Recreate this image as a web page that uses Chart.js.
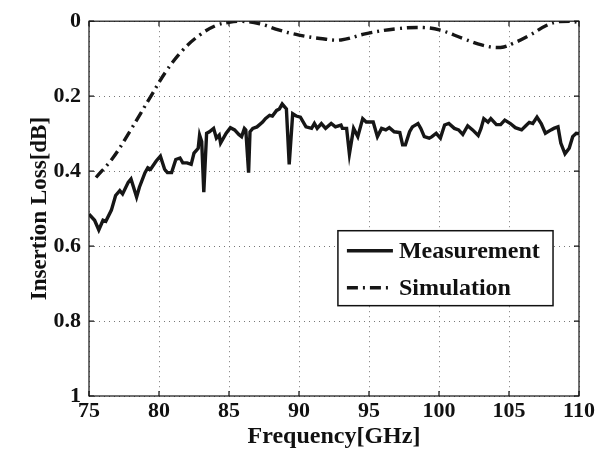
<!DOCTYPE html>
<html>
<head>
<meta charset="utf-8">
<script src="https://cdn.jsdelivr.net/npm/chart.js@4.4.0/dist/chart.umd.min.js"></script>
<style>
  html, body { margin: 0; padding: 0; background: #fff; }
  #wrap { width: 598px; height: 454px; }
</style>
</head>
<body>
<div id="wrap"><canvas id="loss"></canvas></div>
<script>
const xTicks = [75, 80, 85, 90, 95, 100, 105, 110];
const yTicks = [0, 0.2, 0.4, 0.6, 0.8, 1];

const measFreq = [75.0, 75.4, 75.7, 76.0, 76.2, 76.6, 76.9, 77.2, 77.4, 77.8, 78.0, 78.4, 78.6, 79.0, 79.2, 79.4, 79.8,
  80.1, 80.4, 80.6, 80.9, 81.2, 81.5, 81.7, 82.0, 82.3, 82.5, 82.8, 82.9, 83.05, 83.2, 83.4, 83.6, 83.9, 84.1, 84.3, 84.4, 84.8,
  85.1, 85.4, 85.7, 85.9, 86.1, 86.2, 86.4, 86.5, 86.7, 87.0, 87.4, 87.6, 87.9, 88.1, 88.4, 88.6, 88.8, 89.1, 89.3, 89.55, 89.8,
  90.1, 90.5, 90.9, 91.1, 91.3, 91.6, 91.9, 92.3, 92.6, 93.0, 93.1, 93.4, 93.6, 93.9, 94.2, 94.55, 94.8,
  95.3, 95.6, 95.9, 96.2, 96.45, 96.8, 97.2, 97.4, 97.6, 97.9, 98.1, 98.5, 98.7, 98.95, 99.3, 99.5, 99.8,
  100.1, 100.4, 100.7, 101.1, 101.4, 101.7, 102.05, 102.4, 102.8, 103.0, 103.2, 103.5, 103.7, 104.1, 104.4, 104.7,
  105.1, 105.45, 105.9, 106.2, 106.45, 106.7, 107.0, 107.3, 107.6, 108.0, 108.2, 108.5, 108.7, 109.0, 109.3, 109.55, 109.8, 110.0];
const measLoss = [0.515, 0.531, 0.557, 0.531, 0.534, 0.504, 0.465, 0.452, 0.461, 0.430, 0.421, 0.469, 0.443, 0.404, 0.391, 0.395, 0.373,
  0.360, 0.395, 0.404, 0.404, 0.369, 0.365, 0.378, 0.378, 0.382, 0.352, 0.339, 0.304, 0.321, 0.456, 0.299, 0.295, 0.286, 0.312, 0.304, 0.325, 0.299,
  0.284, 0.290, 0.302, 0.308, 0.286, 0.290, 0.404, 0.295, 0.286, 0.282, 0.269, 0.260, 0.251, 0.253, 0.238, 0.234, 0.221, 0.234, 0.382, 0.247, 0.253,
  0.256, 0.282, 0.286, 0.273, 0.286, 0.273, 0.286, 0.273, 0.282, 0.277, 0.286, 0.286, 0.354, 0.286, 0.308, 0.260, 0.269,
  0.269, 0.308, 0.286, 0.290, 0.284, 0.295, 0.297, 0.330, 0.330, 0.295, 0.282, 0.273, 0.286, 0.308, 0.312, 0.308, 0.299,
  0.312, 0.277, 0.273, 0.286, 0.290, 0.302, 0.279, 0.290, 0.305, 0.286, 0.260, 0.269, 0.260, 0.276, 0.276, 0.264,
  0.273, 0.284, 0.290, 0.279, 0.270, 0.273, 0.256, 0.273, 0.299, 0.290, 0.286, 0.282, 0.325, 0.354, 0.339, 0.308, 0.299, 0.300];

const simFreq = [75.5, 76.7, 77.9, 79.5, 80.5, 81.7, 82.9, 84.1, 85.0, 85.8, 87.2, 88.6, 90.0, 91.5, 93.0,
  94.8, 97.0, 98.9, 100.1, 101.7, 103.1, 104.4, 105.3, 106.5, 107.7, 108.6, 109.4, 110.0];
const simLoss = [0.417, 0.365, 0.295, 0.195, 0.134, 0.077, 0.037, 0.011, 0.003, 0.0, 0.007, 0.024, 0.037, 0.046, 0.050,
  0.033, 0.020, 0.017, 0.024, 0.046, 0.064, 0.070, 0.059, 0.037, 0.011, 0.001, 0.0, 0.004];

const serif = 'Liberation Serif, Times New Roman, serif';

// box around the plot plus short inward ticks on every side
const frame = {
  id: 'frame',
  afterDatasetsDraw(chart) {
    const { ctx, chartArea: a, scales } = chart;
    ctx.save();
    ctx.strokeStyle = '#111';
    ctx.lineWidth = 1.2;
    ctx.strokeRect(a.left, a.top, a.right - a.left, a.bottom - a.top);
    ctx.beginPath();
    xTicks.forEach(v => {
      const px = scales.x.getPixelForValue(v);
      ctx.moveTo(px, a.bottom); ctx.lineTo(px, a.bottom - 5);
      ctx.moveTo(px, a.top); ctx.lineTo(px, a.top + 5);
    });
    yTicks.forEach(v => {
      const py = scales.y.getPixelForValue(v);
      ctx.moveTo(a.left, py); ctx.lineTo(a.left + 5, py);
      ctx.moveTo(a.right, py); ctx.lineTo(a.right - 5, py);
    });
    ctx.stroke();
    ctx.restore();
  }
};

// legend box inside the plot, lower right
const boxLegend = {
  id: 'boxLegend',
  afterDraw(chart) {
    const { ctx, chartArea: a } = chart;
    const w = a.right - a.left, h = a.bottom - a.top;
    const L = a.left + 0.508 * w, R = a.left + 0.947 * w;
    const T = a.top + 0.559 * h, B = a.top + 0.759 * h;
    ctx.save();
    ctx.fillStyle = '#fff';
    ctx.fillRect(L, T, R - L, B - T);
    ctx.strokeStyle = '#111';
    ctx.lineWidth = 1.5;
    ctx.strokeRect(L, T, R - L, B - T);
    ctx.font = 'bold 24px ' + serif;
    ctx.textBaseline = 'middle';
    ctx.fillStyle = '#111';
    chart.data.datasets.forEach((ds, i) => {
      const y = T + 20 + i * 37;
      ctx.beginPath();
      ctx.setLineDash(ds.borderDash || []);
      ctx.lineWidth = ds.borderWidth;
      ctx.strokeStyle = ds.borderColor;
      ctx.moveTo(L + 9, y);
      ctx.lineTo(L + 55, y);
      ctx.stroke();
      ctx.setLineDash([]);
      ctx.fillText(ds.label, L + 61, y + 1);
    });
    ctx.restore();
  }
};

const ctx = document.getElementById('loss');

new Chart(ctx, {
  type: 'line',
  data: {
    datasets: [{
      label: 'Measurement',
      data: measFreq.map((f, i) => ({ x: f, y: measLoss[i] })),
      borderColor: '#161616',
      borderWidth: 3.4,
      pointRadius: 0,
      tension: 0
    }, {
      label: 'Simulation',
      data: simFreq.map((f, i) => ({ x: f, y: simLoss[i] })),
      borderColor: '#161616',
      borderWidth: 3.4,
      borderDash: [11, 5, 2, 5],
      pointRadius: 0,
      tension: 0.4
    }]
  },
  options: {
    responsive: true,
    maintainAspectRatio: false,
    animation: false,
    layout: { padding: { left: 0, right: 19, top: 14, bottom: 0 } },
    plugins: { legend: { display: false }, tooltip: { enabled: false } },
    scales: {
      x: {
        type: 'linear',
        min: 75,
        max: 110,
        afterBuildTicks: s => { s.ticks = xTicks.map(v => ({ value: v })); },
        afterFit: s => { s.height = 58; },
        grid: { color: '#777', lineWidth: 1, drawTicks: false },
        border: { display: false, dash: [1, 4] },
        ticks: { color: '#111', padding: 2, maxRotation: 0, font: { family: serif, size: 22, weight: 'bold' } },
        title: { display: true, text: 'Frequency[GHz]', color: '#111', padding: { top: 0, bottom: 3 }, font: { family: serif, size: 24, weight: 'bold' } }
      },
      y: {
        reverse: true,
        min: 0,
        max: 1,
        afterBuildTicks: s => { s.ticks = yTicks.map(v => ({ value: v })); },
        afterFit: s => { s.width = 89; },
        grid: { color: '#777', lineWidth: 1, drawTicks: false },
        border: { display: false, dash: [1, 4] },
        ticks: { color: '#111', padding: 8, callback: v => String(v), font: { family: serif, size: 22, weight: 'bold' } },
        title: { display: true, text: 'Insertion Loss[dB]', color: '#111', padding: { top: 26, bottom: 0 }, font: { family: serif, size: 23, weight: 'bold' } }
      }
    }
  },
  plugins: [frame, boxLegend]
});
</script>
</body>
</html>
